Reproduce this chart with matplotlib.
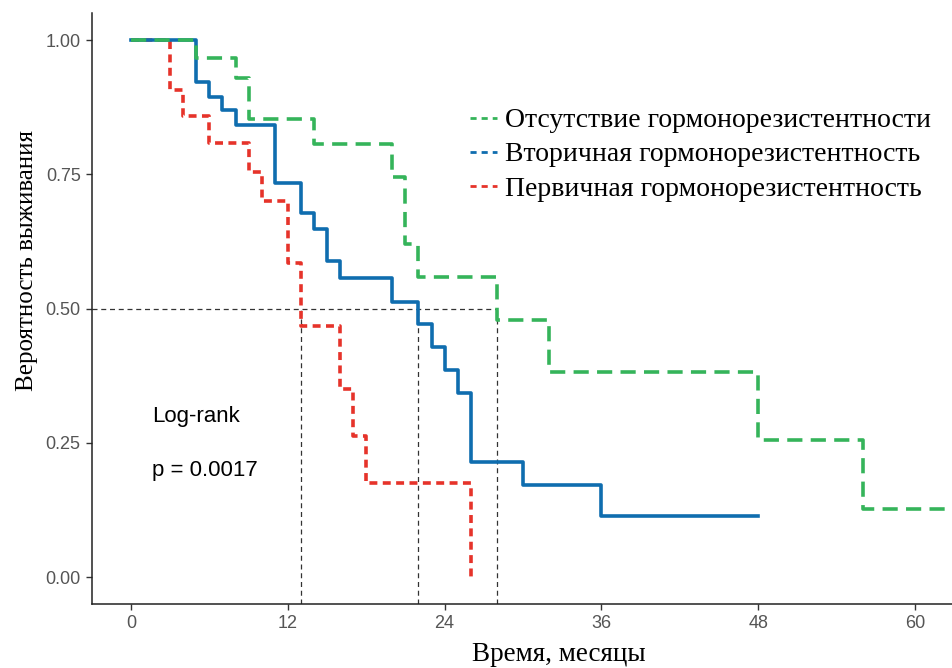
import matplotlib.pyplot as plt
from matplotlib.lines import Line2D

# Kaplan-Meier: время (мес.) и вероятность выживания по группам
t_none = [0, 5, 8, 9, 14, 20, 21, 22, 28, 32, 48, 56, 63]
s_none = [1.0, 0.966, 0.929, 0.852, 0.806, 0.745, 0.621, 0.558, 0.479, 0.382, 0.255, 0.127, 0.127]

t_sec = [0, 5, 6, 7, 8, 11, 13, 14, 15, 16, 20, 22, 23, 24, 25, 26, 30, 36, 48]
s_sec = [1.0, 0.922, 0.894, 0.870, 0.842, 0.734, 0.678, 0.649, 0.588, 0.557, 0.513,
         0.472, 0.429, 0.385, 0.342, 0.214, 0.172, 0.114, 0.114]

t_prim = [0, 3, 4, 6, 9, 10, 12, 13, 16, 17, 18, 26]
s_prim = [1.0, 0.907, 0.858, 0.808, 0.755, 0.700, 0.584, 0.467, 0.350, 0.263, 0.176, 0.0]

labels = ['Отсутствие гормонорезистентности',
          'Вторичная гормонорезистентность',
          'Первичная гормонорезистентность']
colors = ['#35B45A', '#0F6DAF', '#E6332A']

medians = [13, 22, 28]
x_ticks = [0, 12, 24, 36, 48, 60]
y_ticks = [0.0, 0.25, 0.5, 0.75, 1.0]

fig = plt.figure(figsize=(9.52, 6.68), dpi=100)
ax = fig.add_axes([0.0964, 0.0960, 0.9059, 0.8843])

# медианы
ax.plot([-3, max(medians)], [0.5, 0.5], color='#333333', lw=0.9, ls=(0, (4, 3)))
for m in medians:
    ax.plot([m, m], [-0.05, 0.5], color='#333333', lw=0.9, ls=(0, (4, 3)))

ax.step(t_prim, s_prim, where='post', color=colors[2], lw=2.6, ls=(0, (2.2, 1.5)))
ax.step(t_sec, s_sec, where='post', color=colors[1], lw=2.6)
ax.step(t_none, s_none, where='post', color=colors[0], lw=2.6, ls=(0, (4.2, 2.3)))

ax.text(1.6, 0.298, 'Log-rank', fontsize=16, family='Liberation Sans', va='center')
ax.text(1.6, 0.199, 'p = 0.0017', fontsize=16, family='Liberation Sans', va='center')

handles = [Line2D([], [], color=c, lw=2, ls=(0, (2.2, 1.8))) for c in colors]
ax.legend(handles, labels, loc='upper left', bbox_to_anchor=(0.4386, 0.8395),
          frameon=False, borderpad=0, borderaxespad=0, handlelength=0.97,
          handletextpad=0.29, labelspacing=0.31,
          prop={'family': 'Liberation Serif', 'size': 20})

ax.set_xlim(-3, 63)
ax.set_ylim(-0.05, 1.05)
ax.set_xticks(x_ticks)
ax.set_yticks(y_ticks)
ax.set_yticklabels(['%.2f' % v for v in y_ticks])
for s in ['top', 'right']:
    ax.spines[s].set_visible(False)
for s in ['left', 'bottom']:
    ax.spines[s].set_linewidth(1.1)
    ax.spines[s].set_color('#222222')
ax.tick_params(length=4, width=1, color='#333333', labelcolor='#555555',
               labelsize=13, pad=4)
for lab in ax.get_xticklabels() + ax.get_yticklabels():
    lab.set_family('Liberation Sans')

ax.set_xlabel('Время, месяцы', fontsize=19.5, family='Liberation Serif')
ax.set_ylabel('Вероятность выживания', fontsize=18, family='Liberation Serif')
ax.xaxis.set_label_coords(0.5417, -0.0640)
ax.yaxis.set_label_coords(-0.0624, 0.582)

fig.savefig('out.png', dpi=100)
